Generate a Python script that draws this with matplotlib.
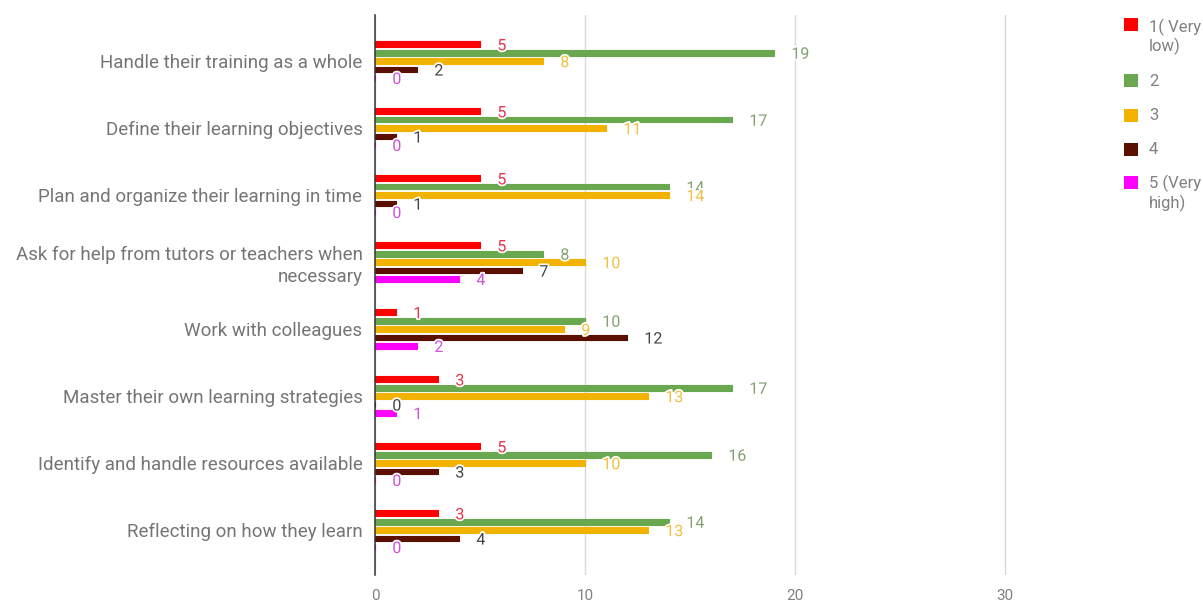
import matplotlib
matplotlib.use("Agg")
import matplotlib.pyplot as plt
import matplotlib.patheffects as pe
from matplotlib.patches import Rectangle
import numpy as np

plt.rcParams['font.family'] = ['Roboto', 'DejaVu Sans']

categories = [
    "Handle their training as a whole",
    "Define their learning objectives",
    "Plan and organize their learning in time",
    "Ask for help from tutors or teachers when\nnecessary",
    "Work with colleagues",
    "Master their own learning strategies",
    "Identify and handle resources available",
    "Reflecting on how they learn",
]
series_names = ["1( Very\nlow)", "2", "3", "4", "5 (Very\nhigh)"]
s1 = [5, 5, 5, 5, 1, 3, 5, 3]
s2 = [19, 17, 14, 8, 10, 17, 16, 14]
s3 = [8, 11, 14, 10, 9, 13, 10, 13]
s4 = [2, 1, 1, 7, 12, 0, 3, 4]
s5 = [0, 0, 0, 4, 2, 1, 0, 0]
series = [s1, s2, s3, s4, s5]
bar_colors = ["#ff0000", "#6aa84f", "#f1b300", "#5b0f00", "#ff00ff"]
label_colors = ["#e8334a", "#82a070", "#f0c040", "#444444", "#d14fdc"]
xticks = [0, 10, 20, 30]

W, H = 1203, 601
fig = plt.figure(figsize=(W / 100, H / 100), dpi=100)
ax = fig.add_axes([375 / W, 1 - 575 / H, (1100 - 375) / W, (575 - 15) / H])

y = np.arange(len(categories))
step = 8.4 / 67.0
bh = 5.8 / 67.0
for k, (vals, col, lcol) in enumerate(zip(series, bar_colors, label_colors)):
    yy = y + (k - 2) * step
    ax.barh(yy, vals, height=bh, color=col, edgecolor=col, linewidth=0.8,
            joinstyle='round', zorder=3)
    for yi, v in zip(yy, vals):
        t = ax.annotate(str(v), (v, yi), xytext=(12.5, -1.2), textcoords='offset points',
                        ha='left', va='center', fontsize=11.5, color=lcol, zorder=5)
        t.set_path_effects([pe.withStroke(linewidth=2.5, foreground='white')])

ax.set_xlim(0, (1100 - 375) / 21.0)
ax.set_ylim((575 - 61) / 67.0, (15 - 61) / 67.0)
ax.set_xticks(xticks)
ax.set_xticklabels([str(v) for v in xticks])
ax.set_yticks(y)
ax.set_yticklabels(categories, fontsize=13.5, color="#757575", linespacing=1.25)
ax.tick_params(axis='both', length=0)
ax.tick_params(axis='y', pad=9)
ax.tick_params(axis='x', pad=10, labelsize=11, labelcolor="#808080")
ax.grid(axis='x', color="#d9d9d9", linewidth=1, zorder=0)
for s in ['top', 'right', 'bottom']:
    ax.spines[s].set_visible(False)
ax.spines['left'].set_color('#333333')
ax.spines['left'].set_linewidth(1.1)
ax.spines['left'].set_zorder(4)

# legend
sq_y = [24, 80, 115, 149, 183]
txt_y = [[27, 46], [81], [115], [149], [183, 203]]
for name, col, yc, tys in zip(series_names, bar_colors, sq_y, txt_y):
    fig.patches.append(Rectangle((1124 / W, 1 - (yc + 6.5) / H), 14 / W, 13 / H,
                                 transform=fig.transFigure, facecolor=col, edgecolor='none'))
    for line, ty in zip(name.split("\n"), tys):
        fig.text(1149 / W, 1 - ty / H, line, fontsize=12, color="#808080",
                 va='center', ha='left')

fig.savefig("out.png", dpi=100, facecolor='white')
